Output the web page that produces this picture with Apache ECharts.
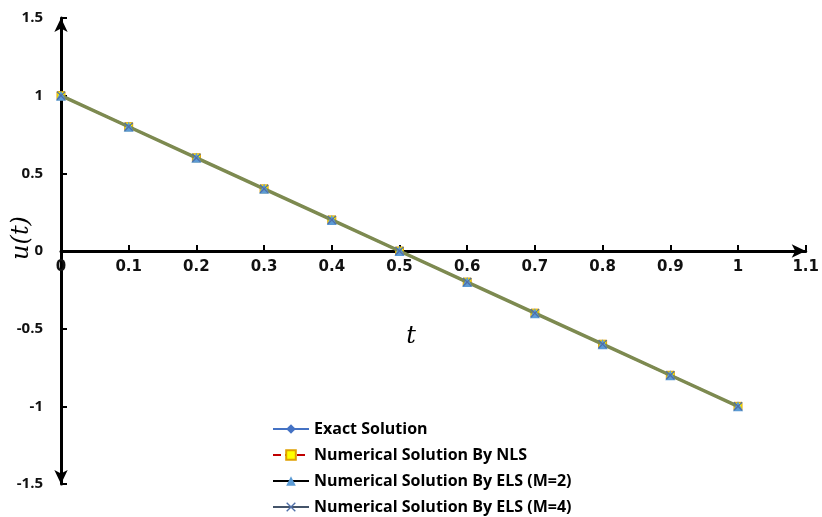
<!DOCTYPE html>
<html><head><meta charset="utf-8">
<script src="https://cdn.jsdelivr.net/npm/echarts@6/dist/echarts.min.js"></script>
<style>html,body{margin:0;padding:0;background:#fff}#c{width:822px;height:517px}</style>
</head><body><div id="c"></div>
<script>
const tValues = [0, 0.1, 0.2, 0.3, 0.4, 0.5, 0.6, 0.7, 0.8, 0.9, 1];
const exactU = [1, 0.8, 0.6, 0.4, 0.2, 0, -0.2, -0.4, -0.6, -0.8, -1];
const nlsU   = [1, 0.8, 0.6, 0.4, 0.2, 0, -0.2, -0.4, -0.6, -0.8, -1];
const els2U  = [1, 0.8, 0.6, 0.4, 0.2, 0, -0.2, -0.4, -0.6, -0.8, -1];
const els4U  = [1, 0.8, 0.6, 0.4, 0.2, 0, -0.2, -0.4, -0.6, -0.8, -1];
const xTickLabels = ['0','0.1','0.2','0.3','0.4','0.5','0.6','0.7','0.8','0.9','1','1.1'];
const yTickLabels = ['-1.5','-1','-0.5','0','0.5','1','1.5'];
const seriesNames = ['Exact Solution','Numerical Solution By NLS','Numerical Solution By ELS (M=2)','Numerical Solution By ELS (M=4)'];

const pairs = arr => tValues.map((t,i)=>[t,arr[i]]);
const crossPath = 'path://M0,1 L1,0 L5,4 L9,0 L10,1 L6,5 L10,9 L9,10 L5,6 L1,10 L0,9 L4,5 Z';

const W = 822, H = 517, gTop = 18, gBottom = 33;
const plotH = H - gTop - gBottom;

const chart = echarts.init(document.getElementById('c'));
chart.setOption({
  animation:false,
  backgroundColor:'#fff',
  grid:{left:61,right:13,top:gTop,bottom:gBottom},
  xAxis:{type:'value',min:0,max:1.1,interval:0.1,position:'bottom',offset:-plotH/2,
    axisLine:{onZero:false,lineStyle:{color:'#000',width:3},symbol:['none','arrow'],symbolSize:[10,14]},
    axisTick:{inside:true,length:6,lineStyle:{color:'#000',width:2}},
    splitLine:{show:false},
    axisLabel:{margin:9,color:'#111',fontFamily:'DejaVu Sans',fontWeight:'bold',fontSize:15,
      formatter:v=>xTickLabels[Math.round(v*10)]}
  },
  yAxis:{type:'value',min:-1.5,max:1.5,interval:0.5,
    axisLine:{onZero:false,lineStyle:{color:'#000',width:3},symbol:['arrow','arrow'],symbolSize:[10,14]},
    axisTick:{inside:true,length:6,lineStyle:{color:'#000',width:2}},
    splitLine:{show:false},
    axisLabel:{margin:18,color:'#111',fontFamily:'Open Sans',fontWeight:'bold',fontSize:15,
      formatter:v=>yTickLabels[Math.round((v+1.5)*2)]}
  },
  legend:{orient:'vertical',left:272,top:419,padding:0,itemWidth:36,itemHeight:12,itemGap:6,
    textStyle:{fontFamily:'Open Sans',fontWeight:'bold',fontSize:16,color:'#000',lineHeight:20},
    data:[
      {name:seriesNames[0]},
      {name:seriesNames[1]},
      {name:seriesNames[2],lineStyle:{opacity:1,color:'#000',width:2}},
      {name:seriesNames[3],lineStyle:{opacity:1,color:'#44546A',width:2}}
    ]},
  series:[
    {name:seriesNames[0],type:'line',data:pairs(exactU),z:2,symbol:'diamond',symbolSize:8,
      itemStyle:{color:'#4472C4'},lineStyle:{color:'#4472C4',width:2}},
    {name:seriesNames[1],type:'line',data:pairs(nlsU),z:2,symbol:'rect',symbolSize:8,
      itemStyle:{color:'#FFFF00',borderColor:'#E0A000',borderWidth:1},lineStyle:{color:'#C00000',width:2,type:'dashed'}},
    {name:'overlay',type:'line',data:pairs(exactU),z:3,symbol:'none',
      lineStyle:{color:'#7d8a50',width:3.5},silent:true},
    {name:seriesNames[2],type:'line',data:pairs(els2U),z:4,symbol:'triangle',symbolSize:10,
      itemStyle:{color:'#5B9BD5'},lineStyle:{color:'#000',width:2,opacity:0}},
    {name:seriesNames[3],type:'line',data:pairs(els4U),z:5,symbol:crossPath,symbolSize:9,
      itemStyle:{color:'#4F6FA8'},lineStyle:{color:'#44546A',width:2,opacity:0}}
  ],
  graphic:[
    {type:'text',x:22,y:238,rotation:Math.PI/2,style:{text:'u(t)',font:'italic 24px "DejaVu Serif"',fill:'#000',align:'center',verticalAlign:'middle'}},
    {type:'text',x:411,y:337,style:{text:'t',font:'italic 24px "DejaVu Serif"',fill:'#000',align:'center',verticalAlign:'middle'}}
  ]
});
</script></body></html>
